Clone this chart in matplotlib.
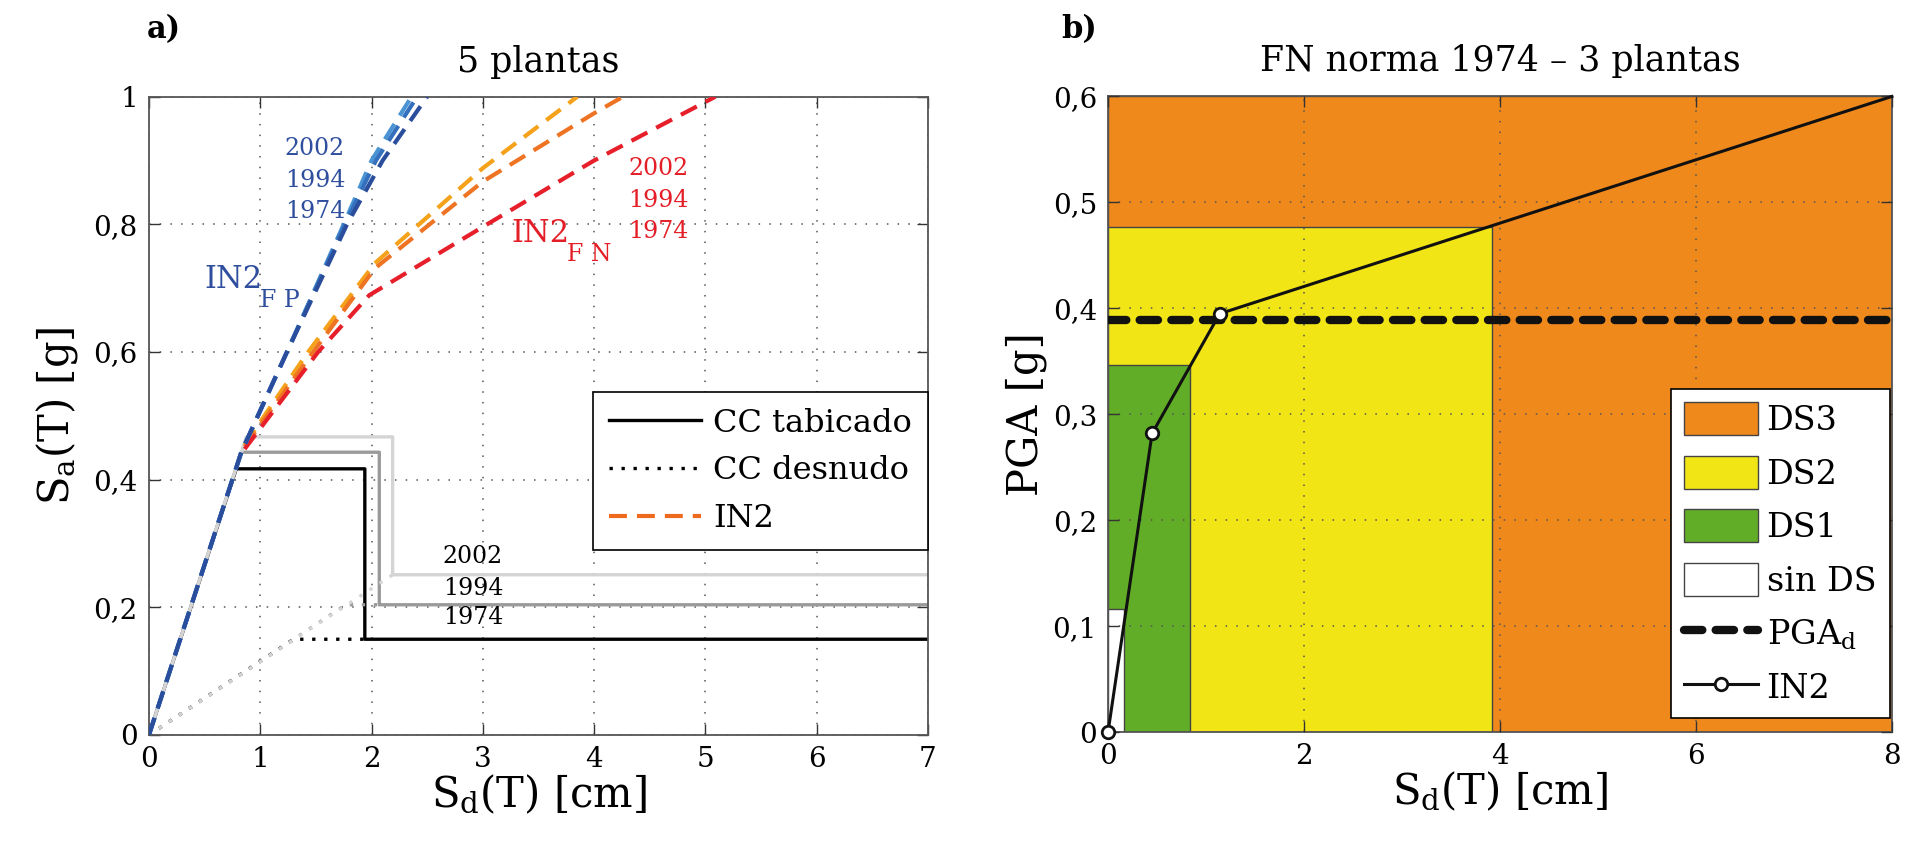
import matplotlib
matplotlib.use("Agg")
import matplotlib.pyplot as plt
from matplotlib.patches import Rectangle, Patch
from matplotlib.lines import Line2D
from matplotlib.ticker import FuncFormatter

plt.rcParams['font.family'] = ['DejaVu Serif']
plt.rcParams['mathtext.fontset'] = 'dejavuserif'

# ---- panel a) capacity curves (tabicado / desnudo) ----
cc_x_1974 = [0, 0.785, 1.94, 1.94, 7]
cc_y_1974 = [0, 0.417, 0.417, 0.15, 0.15]
cc_x_1994 = [0, 0.83, 2.07, 2.07, 7]
cc_y_1994 = [0, 0.443, 0.443, 0.204, 0.204]
cc_x_2002 = [0, 0.875, 2.19, 2.19, 7]
cc_y_2002 = [0, 0.467, 0.467, 0.251, 0.251]

cd_x_1974 = [0, 1.30, 1.94]
cd_y_1974 = [0, 0.15, 0.15]
cd_x_1994 = [0, 1.77, 2.07]
cd_y_1994 = [0, 0.204, 0.204]
cd_x_2002 = [0, 2.19]
cd_y_2002 = [0, 0.251]

# IN2 demand curves, FN
fn_x_2002 = [0.86, 1.43, 2.03, 3.0, 3.85]
fn_y_2002 = [0.455, 0.60, 0.739, 0.888, 1.0]
fn_x_1994 = [0.86, 1.476, 2.03, 3.0, 4.0, 4.26]
fn_y_1994 = [0.452, 0.60, 0.731, 0.867, 0.974, 1.0]
fn_x_1974 = [0.86, 1.52, 1.98, 3.0, 4.0, 5.09]
fn_y_1974 = [0.448, 0.60, 0.689, 0.796, 0.90, 1.0]

# IN2 demand curves, FP
fp_x_2002 = [0, 0.83, 1.24, 1.75, 2.00, 2.36]
fp_y_2002 = [0, 0.443, 0.60, 0.80, 0.90, 1.0]
fp_x_1994 = [0, 0.83, 1.24, 1.76, 2.04, 2.41]
fp_y_1994 = [0, 0.443, 0.60, 0.80, 0.90, 1.0]
fp_x_1974 = [0, 0.83, 1.24, 1.78, 2.10, 2.50]
fp_y_1974 = [0, 0.443, 0.60, 0.80, 0.90, 1.0]

years = ['2002', '1994', '1974']

# ---- panel b) damage state regions ----
ds_labels = ['DS3', 'DS2', 'DS1', 'sin DS']
ds_xmax = [8.0, 3.92, 0.84, 0.16]
ds_ymax = [0.6, 0.477, 0.3465, 0.116]
ds_colors = ['#f0891b', '#f2e515', '#62ad27', '#ffffff']

in2_x = [0, 0.45, 1.14, 8.0]
in2_y = [0, 0.282, 0.395, 0.6]
pga_d = 0.389

comma = FuncFormatter(lambda v, p: ('%g' % round(v, 3)).replace('.', ','))

fig = plt.figure(figsize=(19.12, 8.49), dpi=100)
ax1 = fig.add_axes([0.0779, 0.1343, 0.4074, 0.7518])
ax2 = fig.add_axes([0.5795, 0.1374, 0.4100, 0.7490])

grid_kw = dict(color='#555555', linestyle=(0, (1, 6)), linewidth=1.1)

# ---------- a) ----------
gray_cols = ['black', '#9a9a9a', '#d4d4d4']
dot = (0, (1, 2.6))
for xs, ys, c in zip([cc_x_1974, cc_x_1994, cc_x_2002],
                     [cc_y_1974, cc_y_1994, cc_y_2002], gray_cols):
    ax1.plot(xs, ys, color=c, lw=2.4, zorder=2)
for xs, ys, c in zip([cd_x_1974, cd_x_1994, cd_x_2002],
                     [cd_y_1974, cd_y_1994, cd_y_2002], gray_cols):
    ax1.plot(xs, ys, color=c, lw=2.4, linestyle=dot, zorder=2)

dash = (0, (4.3, 2.4))
fn_cols = ['#f5a11a', '#ee7423', '#e61f2a']
for xs, ys, c in zip([fn_x_2002, fn_x_1994, fn_x_1974],
                     [fn_y_2002, fn_y_1994, fn_y_1974], fn_cols):
    ax1.plot(xs, ys, color=c, lw=3.0, linestyle=dash, zorder=3)
fp_cols = ['#4a94d4', '#3470bd', '#2a4d9c']
for xs, ys, c in zip([fp_x_2002, fp_x_1994, fp_x_1974],
                     [fp_y_2002, fp_y_1994, fp_y_1974], fp_cols):
    ax1.plot(xs, ys, color=c, lw=3.0, linestyle=dash, zorder=4)

ax1.set_xlim(0, 7)
ax1.set_ylim(0, 1)
ax1.set_xticks(range(8))
ax1.set_yticks([0, 0.2, 0.4, 0.6, 0.8, 1])
ax1.yaxis.set_major_formatter(comma)
ax1.grid(True, **grid_kw)

blue = '#2f4f9e'
red = '#e41e26'
for yy, t in zip([0.919, 0.869, 0.82], years):
    ax1.text(1.22, yy, t, color=blue, fontsize=17, va='center')
for yy, t in zip([0.888, 0.838, 0.789], years):
    ax1.text(4.31, yy, t, color=red, fontsize=17, va='center')
for yy, t in zip([0.28, 0.229, 0.184], years):
    ax1.text(2.64, yy, t, color='black', fontsize=17, va='center')
ax1.text(0.5, 0.713, 'IN2', color=blue, fontsize=22, va='center')
ax1.text(1.0, 0.680, 'F P', color=blue, fontsize=17, va='center')
ax1.text(3.26, 0.785, 'IN2', color=red, fontsize=22, va='center')
ax1.text(3.76, 0.752, 'F N', color=red, fontsize=17, va='center')

h1 = [Line2D([], [], color='black', lw=2.4),
      Line2D([], [], color='black', lw=2.4, linestyle=dot),
      Line2D([], [], color='#ee6a1e', lw=3.0, linestyle=dash)]
leg1 = ax1.legend(h1, ['CC tabicado', 'CC desnudo', 'IN2'], loc='upper right',
                  bbox_to_anchor=(1.0, 0.538), borderaxespad=0, fontsize=23,
                  fancybox=False, framealpha=1, edgecolor='black',
                  handlelength=2.9, handletextpad=0.37, labelspacing=0.52,
                  borderpad=0.5)
leg1.get_frame().set_linewidth(1.2)

ax1.set_title('5 plantas', fontsize=25, pad=18)
ax1.set_xlabel(r'S$_{\mathrm{d}}$(T) [cm]', fontsize=30, labelpad=0)
ax1.set_ylabel(r'S$_{\mathrm{a}}$(T) [g]', fontsize=30, labelpad=10)

# ---------- b) ----------
for xm, ym, c in zip(ds_xmax, ds_ymax, ds_colors):
    ax2.add_patch(Rectangle((0, 0), xm, ym, facecolor=c, edgecolor='#444444',
                            lw=1.0, zorder=0))
ax2.axhline(pga_d, color='#111111', lw=6, linestyle=(0, (2.2, 1.6)),
            dash_capstyle='round', zorder=3)
ax2.plot(in2_x, in2_y, color='#111111', lw=2.2, marker='o', markevery=[0, 1, 2],
         markersize=9, markerfacecolor='white', markeredgewidth=2.0,
         markeredgecolor='#111111', zorder=4, clip_on=False)

ax2.set_xlim(0, 8)
ax2.set_ylim(0, 0.6)
ax2.set_xticks([0, 2, 4, 6, 8])
ax2.set_yticks([0, 0.1, 0.2, 0.3, 0.4, 0.5, 0.6])
ax2.yaxis.set_major_formatter(comma)
ax2.grid(True, **grid_kw)
ax2.set_axisbelow(False)

h2 = [Patch(facecolor=c, edgecolor='#444444', lw=1.0) for c in ds_colors]
h2.append(Line2D([], [], color='#111111', lw=6, linestyle=(0, (2.2, 1.6)),
                 dash_capstyle='round'))
h2.append(Line2D([], [], color='#111111', lw=2.2, marker='o', markersize=9,
                 markerfacecolor='white', markeredgewidth=2.0))
leg2 = ax2.legend(h2, ds_labels + [r'PGA$_{\mathrm{d}}$', 'IN2'], loc='lower right',
                  bbox_to_anchor=(0.997, 0.022), borderaxespad=0, fontsize=24,
                  fancybox=False, framealpha=1, edgecolor='black',
                  handlelength=2.2, handleheight=1.15, labelspacing=0.56,
                  borderpad=0.4, handletextpad=0.27)
leg2.get_frame().set_linewidth(1.2)

ax2.set_title('FN norma 1974 – 3 plantas', fontsize=25, pad=18)
ax2.set_xlabel(r'S$_{\mathrm{d}}$(T) [cm]', fontsize=30, labelpad=0)
ax2.set_ylabel('PGA [g]', fontsize=30, labelpad=4)

for ax in (ax1, ax2):
    ax.tick_params(direction='in', top=True, right=True, length=8, width=1.0,
                   labelsize=20, pad=8, color='#333333')
    for s in ax.spines.values():
        s.set_color('#555555')
        s.set_linewidth(1.3)

fig.text(0.077, 0.965, 'a)', fontsize=22, fontweight='bold', va='center')
fig.text(0.555, 0.965, 'b)', fontsize=22, fontweight='bold', va='center')

fig.savefig('out.png', dpi=100)
